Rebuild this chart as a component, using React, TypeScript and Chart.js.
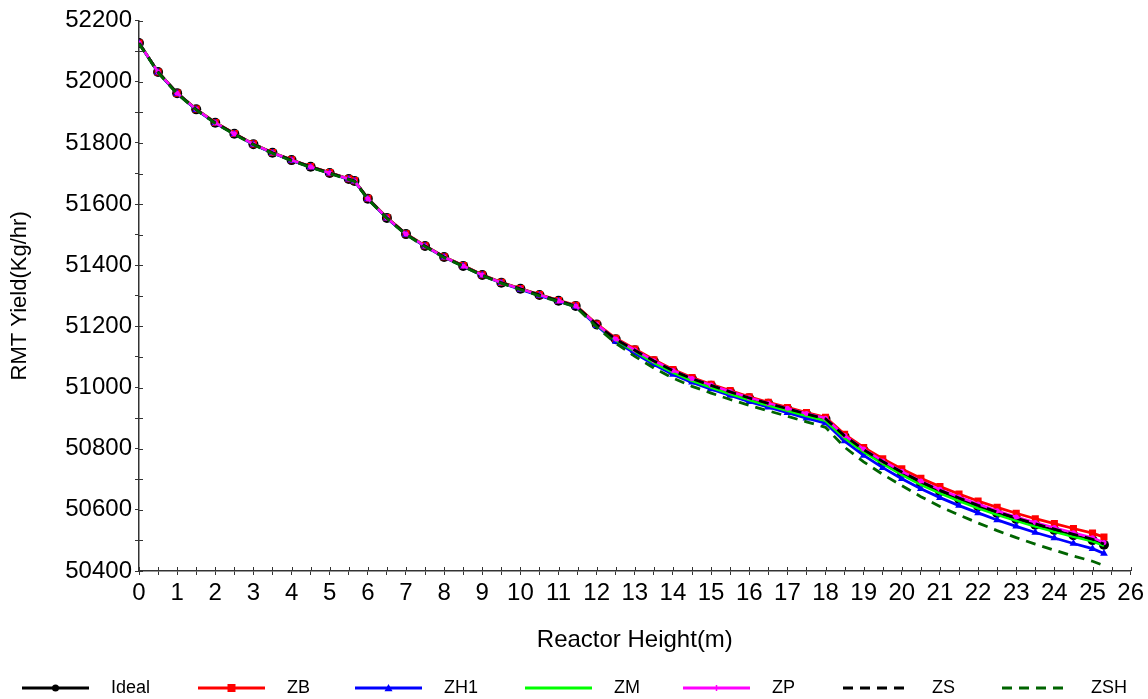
import { useEffect, useRef } from 'react';
import { Chart, registerables } from 'chart.js';

Chart.register(...registerables);

const heights = [0, 0.5, 1, 1.5, 2, 2.5, 3, 3.5, 4, 4.5, 5, 5.5, 5.65, 6, 6.5, 7, 7.5, 8, 8.5, 9, 9.5, 10, 10.5, 11, 11.45, 12, 12.5, 13, 13.5, 14, 14.5, 15, 15.5, 16, 16.5, 17, 17.5, 18, 18.5, 19, 19.5, 20, 20.5, 21, 21.5, 22, 22.5, 23, 23.5, 24, 24.5, 25, 25.3];

const ideal = [52127, 52032, 51963, 51910, 51866, 51830, 51796, 51768, 51744, 51722, 51702, 51682, 51676, 51618, 51555, 51502, 51463, 51427, 51398, 51368, 51343, 51323, 51303, 51284, 51267, 51206, 51158, 51122, 51086, 51054, 51028, 51006, 50985, 50965, 50947, 50930, 50913, 50897, 50840, 50795, 50756, 50721, 50689, 50661, 50636, 50612, 50590, 50570, 50551, 50534, 50517, 50501, 50486];

const zb = [52127, 52032, 51963, 51911, 51867, 51831, 51797, 51769, 51745, 51723, 51703, 51683, 51677, 51619, 51556, 51503, 51464, 51428, 51399, 51369, 51344, 51324, 51304, 51285, 51269, 51208, 51161, 51126, 51091, 51059, 51033, 51011, 50990, 50970, 50952, 50935, 50918, 50903, 50847, 50804, 50767, 50734, 50703, 50676, 50652, 50629, 50608, 50589, 50571, 50555, 50539, 50524, 50511];

const zh1 = [52126, 52031, 51962, 51909, 51865, 51829, 51795, 51767, 51743, 51721, 51701, 51681, 51675, 51617, 51554, 51501, 51462, 51426, 51397, 51367, 51342, 51321, 51301, 51282, 51265, 51202, 51151, 51112, 51075, 51043, 51017, 50995, 50974, 50954, 50936, 50918, 50900, 50884, 50825, 50778, 50738, 50702, 50669, 50640, 50614, 50590, 50567, 50546, 50526, 50508, 50490, 50473, 50457];

const zm = [52127, 52032, 51963, 51910, 51866, 51830, 51796, 51768, 51744, 51722, 51702, 51682, 51676, 51618, 51555, 51502, 51463, 51427, 51398, 51368, 51343, 51323, 51303, 51284, 51267, 51205, 51155, 51118, 51081, 51049, 51022, 51000, 50979, 50959, 50941, 50924, 50907, 50891, 50834, 50789, 50750, 50714, 50682, 50654, 50629, 50605, 50584, 50564, 50545, 50528, 50512, 50497, 50482];

const zp = [52127, 52032, 51963, 51910, 51866, 51830, 51796, 51768, 51744, 51722, 51702, 51682, 51676, 51618, 51555, 51502, 51463, 51427, 51398, 51368, 51343, 51323, 51303, 51284, 51267, 51206, 51159, 51123, 51088, 51056, 51030, 51008, 50987, 50967, 50949, 50932, 50915, 50900, 50843, 50799, 50760, 50726, 50694, 50667, 50642, 50619, 50597, 50577, 50559, 50542, 50525, 50509, 50493];

const zs = [52127, 52032, 51963, 51910, 51866, 51830, 51796, 51768, 51744, 51722, 51702, 51682, 51676, 51618, 51555, 51502, 51463, 51427, 51398, 51368, 51343, 51323, 51303, 51284, 51267, 51206, 51158, 51122, 51087, 51055, 51029, 51007, 50986, 50966, 50948, 50931, 50914, 50898, 50842, 50797, 50758, 50724, 50692, 50664, 50639, 50615, 50593, 50573, 50554, 50537, 50520, 50504, 50488];

const zsh = [52125, 52030, 51961, 51908, 51864, 51828, 51794, 51766, 51742, 51720, 51700, 51680, 51674, 51616, 51553, 51500, 51461, 51425, 51396, 51366, 51341, 51320, 51300, 51281, 51264, 51198, 51145, 51102, 51064, 51031, 51004, 50982, 50961, 50942, 50924, 50906, 50888, 50870, 50805, 50757, 50716, 50679, 50643, 50611, 50583, 50557, 50532, 50509, 50488, 50468, 50449, 50432, 50418];

const seriesNames = ['Ideal', 'ZB', 'ZH1', 'ZM', 'ZP', 'ZS', 'ZSH'];
const xMin = 0;
const xMax = 26;
const yMin = 50400;
const yMax = 52200;
const xTitle = 'Reactor Height(m)';
const yTitle = 'RMT Yield(Kg/hr)';

const FONT = "'Liberation Sans', Arial, sans-serif";

const legendStarts = [22, 198, 355, 525, 683, 843, 1002];
const legendLineLen = 67;
const legendY = 688;

function drawMarker(ctx: CanvasRenderingContext2D, style: string, x: number, y: number, r: number, color: string) {
  ctx.save();
  ctx.setLineDash([]);
  ctx.fillStyle = color;
  ctx.strokeStyle = color;
  ctx.beginPath();
  if (style === 'circle') {
    ctx.arc(x, y, r, 0, Math.PI * 2);
    ctx.fill();
  } else if (style === 'rect') {
    ctx.rect(x - r, y - r, 2 * r, 2 * r);
    ctx.fill();
  } else if (style === 'triangle') {
    ctx.moveTo(x, y - r);
    ctx.lineTo(x + r, y + r * 0.8);
    ctx.lineTo(x - r, y + r * 0.8);
    ctx.closePath();
    ctx.fill();
  } else if (style === 'cross') {
    ctx.lineWidth = 1.5;
    ctx.moveTo(x - r, y);
    ctx.lineTo(x + r, y);
    ctx.moveTo(x, y - r);
    ctx.lineTo(x, y + r);
    ctx.stroke();
  }
  ctx.restore();
}

const legendMarkers = [
  { style: 'circle', r: 3.5 },
  { style: 'rect', r: 4 },
  { style: 'triangle', r: 4 },
  { style: 'none', r: 0 },
  { style: 'cross', r: 3 },
  { style: 'none', r: 0 },
  { style: 'none', r: 0 },
];

const legendPlugin = {
  id: 'customLegend',
  afterDraw(chart: any) {
    const ctx: CanvasRenderingContext2D = chart.ctx;
    chart.data.datasets.forEach((ds: any, i: number) => {
      const x0 = legendStarts[i];
      const x1 = x0 + legendLineLen;
      ctx.save();
      ctx.strokeStyle = ds.borderColor;
      ctx.lineWidth = 3;
      ctx.setLineDash(ds.borderDash || []);
      ctx.beginPath();
      ctx.moveTo(x0, legendY);
      ctx.lineTo(x1, legendY);
      ctx.stroke();
      ctx.restore();
      const m = legendMarkers[i];
      if (m.style !== 'none') drawMarker(ctx, m.style, (x0 + x1) / 2, legendY, m.r, ds.borderColor);
      ctx.save();
      ctx.fillStyle = '#000';
      ctx.font = `18px ${FONT}`;
      ctx.textAlign = 'left';
      ctx.textBaseline = 'middle';
      ctx.fillText(ds.label, x1 + 22, legendY);
      ctx.restore();
    });
  },
};

const innerTicksPlugin = {
  id: 'innerTicks',
  afterDraw(chart: any) {
    const ctx: CanvasRenderingContext2D = chart.ctx;
    const xs = chart.scales.x;
    const ys = chart.scales.y;
    const area = chart.chartArea;
    ctx.save();
    ctx.strokeStyle = '#333';
    ctx.lineWidth = 1;
    ctx.beginPath();
    xs.ticks.forEach((t: any) => {
      const px = Math.round(xs.getPixelForValue(t.value)) + 0.5;
      ctx.moveTo(px, area.bottom);
      ctx.lineTo(px, area.bottom - 4);
    });
    ys.ticks.forEach((t: any) => {
      const py = Math.round(ys.getPixelForValue(t.value)) + 0.5;
      ctx.moveTo(area.left, py);
      ctx.lineTo(area.left + 4, py);
    });
    ctx.stroke();
    ctx.restore();
  },
};

export default function App() {
  const ref = useRef<HTMLCanvasElement>(null);

  useEffect(() => {
    document.body.style.margin = '0';
    Chart.defaults.font.family = FONT;
    Chart.defaults.color = '#000';
    const canvas = ref.current;
    if (!canvas) return;
    const mk = (vals: number[]) => vals.map((v, i) => ({ x: heights[i], y: v }));
    const chart = new Chart(canvas, {
      type: 'line',
      data: {
        datasets: [
          { label: seriesNames[0], data: mk(ideal), borderColor: '#000000', backgroundColor: '#000000', borderWidth: 2.8, pointStyle: 'circle', pointRadius: 5, pointBorderWidth: 0, order: 7 },
          { label: seriesNames[1], data: mk(zb), borderColor: '#ff0000', backgroundColor: '#ff0000', borderWidth: 2.8, pointStyle: 'rect', pointRadius: 5, pointBorderWidth: 0, order: 6 },
          { label: seriesNames[2], data: mk(zh1), borderColor: '#0000ff', backgroundColor: '#0000ff', borderWidth: 2.8, pointStyle: 'triangle', pointRadius: 4.5, pointBorderWidth: 0, order: 5 },
          { label: seriesNames[3], data: mk(zm), borderColor: '#00ff00', backgroundColor: '#00ff00', borderWidth: 2.5, pointRadius: 0, order: 4 },
          { label: seriesNames[4], data: mk(zp), borderColor: '#ff00ff', backgroundColor: '#ff00ff', borderWidth: 2.5, pointStyle: 'circle', pointRadius: 2.5, pointBorderWidth: 0, order: 3 },
          { label: seriesNames[5], data: mk(zs), borderColor: '#000000', backgroundColor: '#000000', borderWidth: 2.8, borderDash: [10, 7], pointRadius: 0, order: 2 },
          { label: seriesNames[6], data: mk(zsh), borderColor: '#006400', backgroundColor: '#006400', borderWidth: 2.8, borderDash: [10, 7], pointRadius: 0, order: 1 },
        ],
      },
      options: {
        responsive: false,
        animation: false,
        devicePixelRatio: 1,
        layout: { padding: { left: 7, right: 17, top: 20.7, bottom: 44.6 } },
        plugins: { legend: { display: false }, tooltip: { enabled: false } },
        scales: {
          x: {
            type: 'linear',
            min: xMin,
            max: xMax,
            afterFit: (s: any) => { s.height = 83.4; },
            ticks: {
              stepSize: 0.5,
              autoSkip: false,
              maxRotation: 0,
              minRotation: 0,
              padding: 4,
              color: '#000',
              font: { size: 24 },
              callback: (v: any) => (Number.isInteger(v) ? String(v) : ''),
            },
            grid: { drawOnChartArea: false, drawTicks: true, tickLength: 4, color: '#333' },
            border: { display: true, color: '#333', width: 1.5 },
            title: { display: true, text: xTitle, color: '#000', font: { size: 24 }, padding: 0 },
          },
          y: {
            type: 'linear',
            min: yMin,
            max: yMax,
            afterFit: (s: any) => { s.width = 132; },
            ticks: {
              stepSize: 100,
              autoSkip: false,
              padding: 3,
              color: '#000',
              font: { size: 24 },
              callback: (v: any) => (Math.round(v) % 200 === 0 ? String(v) : ''),
            },
            grid: { drawOnChartArea: false, drawTicks: true, tickLength: 4, color: '#333' },
            border: { display: true, color: '#333', width: 1.5 },
            title: { display: true, text: yTitle, color: '#000', font: { size: 22 }, padding: 0 },
          },
        },
      },
      plugins: [legendPlugin, innerTicksPlugin],
    } as any);
    return () => chart.destroy();
  }, []);

  return (
    <div style={{ position: 'absolute', left: 0, top: 0, width: 1148, height: 699 }}>
      <canvas ref={ref} width={1148} height={699} style={{ display: 'block' }} />
    </div>
  );
}
